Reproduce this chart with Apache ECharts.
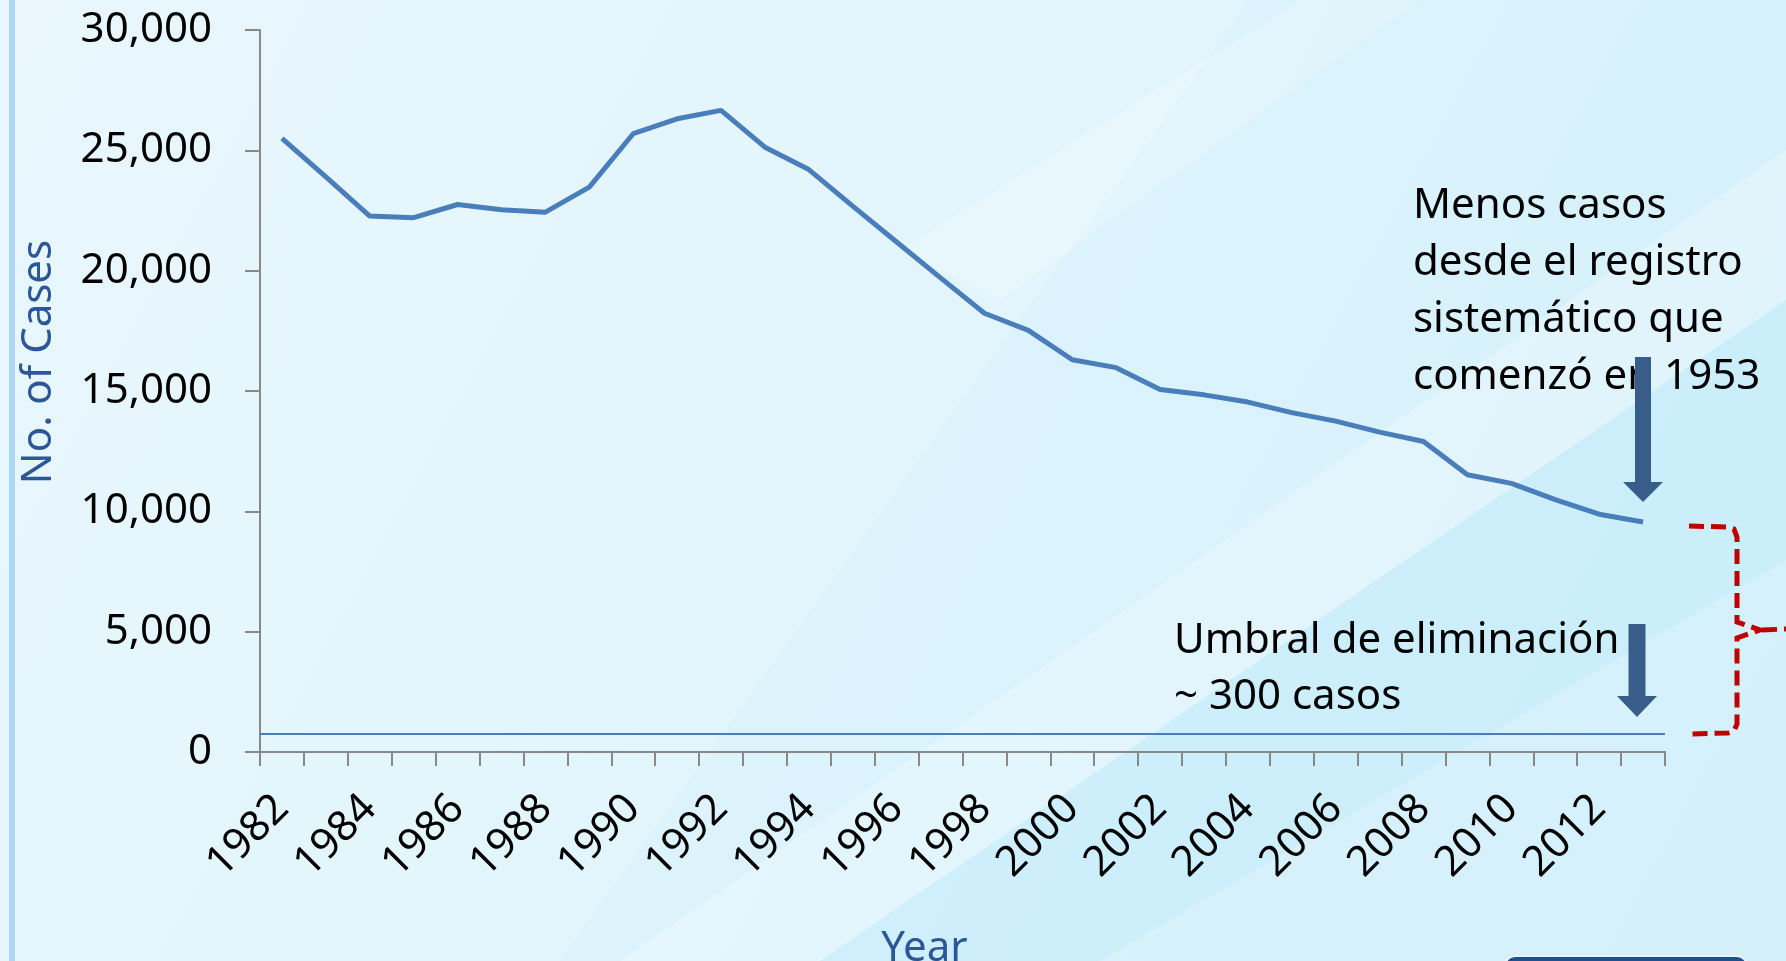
<!DOCTYPE html>
<html>
<head>
<meta charset="utf-8">
<script src="https://cdn.jsdelivr.net/npm/echarts@6/dist/echarts.min.js"></script>
<style>
html,body{margin:0;padding:0;width:1786px;height:961px;overflow:hidden;}
#chart{width:1786px;height:961px;}
</style>
</head>
<body>
<div id="chart"></div>
<script>
const years = ['1982','1983','1984','1985','1986','1987','1988','1989','1990','1991','1992','1993','1994','1995','1996','1997','1998','1999','2000','2001','2002','2003','2004','2005','2006','2007','2008','2009','2010','2011','2012','2013'];
const cases = [25500,23900,22270,22200,22750,22530,22430,23470,25690,26310,26660,25130,24200,22680,21190,19700,18230,17520,16300,15970,15060,14840,14540,14100,13750,13290,12900,11520,11160,10490,9880,9560];
const threshold = [750];
const noteTop = ['Menos casos', 'desde el registro', 'sistemático que', 'comenzó en 1953'];
const noteBottom = ['Umbral de eliminación', '~ 300 casos'];

const FONT = '"Noto Sans", "Open Sans", sans-serif';
const chart = echarts.init(document.getElementById('chart'), null, {renderer: 'canvas'});

const arrowColor = '#385d8a';
function arrow(cx, y0, yBase, yTip, shaftW, headW) {
  return {
    type: 'polygon', z: 20,
    shape: {points: [
      [cx - shaftW/2, y0], [cx + shaftW/2, y0], [cx + shaftW/2, yBase],
      [cx + headW/2, yBase], [cx, yTip], [cx - headW/2, yBase], [cx - shaftW/2, yBase]
    ]},
    style: {fill: arrowColor}
  };
}
const red = {stroke: '#c00000', lineWidth: 5, lineDash: [15, 7], fill: null};

const option = {
  backgroundColor: {
    type: 'linear', x: 0, y: 0, x2: 1, y2: 1,
    colorStops: [{offset: 0, color: '#e4f6fd'}, {offset: 0.5, color: '#dcf3fc'}, {offset: 1, color: '#d3f0fb'}]
  },
  animation: false,
  graphic: [
    {type: 'polygon', z: -10, silent: true, shape: {points: [[0,0],[1250,0],[560,961],[0,961]]}, style: {fill: 'rgba(255,255,255,0.18)'}},
    {type: 'polygon', z: -10, silent: true, shape: {points: [[620,961],[820,961],[1786,300],[1786,150]]}, style: {fill: 'rgba(255,255,255,0.25)'}},
    {type: 'polygon', z: -10, silent: true, shape: {points: [[820,961],[1100,961],[1786,560],[1786,300]]}, style: {fill: 'rgba(190,234,250,0.45)'}},
    {type: 'polygon', z: -10, silent: true, shape: {points: [[900,250],[1300,0],[1420,0],[1000,300]]}, style: {fill: 'rgba(255,255,255,0.2)'}},
    {type: 'rect', z: -5, silent: true, shape: {x: 9, y: 0, width: 6, height: 961}, style: {fill: '#acd9f1'}},
    {type: 'rect', z: -5, silent: true, shape: {x: 1504, y: 956, width: 244, height: 30, r: 12}, style: {fill: '#1f4f8f', stroke: '#eaf6fc', lineWidth: 2}},
    {type: 'text', z: 20, x: 1413, y: 178, style: {text: noteTop.join('\n'), font: '42px ' + FONT, fill: '#000', lineHeight: 57, verticalAlign: 'top'}},
    {type: 'text', z: 20, x: 1174, y: 613, style: {text: noteBottom.join('\n'), font: '42px ' + FONT, fill: '#000', lineHeight: 56, verticalAlign: 'top'}},
    arrow(1643, 357, 482, 502, 16, 40),
    arrow(1637, 624, 696, 717, 17, 40),
    {type: 'polyline', z: 20, silent: true,
     shape: {points: [[1689,526],[1728,527],[1734,529],[1737,537],[1737,622],[1760,630],[1737,638],[1737,724],[1734,731],[1728,733],[1689,734]]},
     style: red},
    {type: 'polyline', z: 20, silent: true, shape: {points: [[1762,630],[1786,629]]}, style: red}
  ],
  grid: {left: 260, right: 121, top: 30, bottom: 209, containLabel: false, outerBoundsMode: 'none'},
  xAxis: {
    type: 'category',
    data: years,
    boundaryGap: true,
    name: 'Year',
    nameLocation: 'middle',
    nameGap: 176,
    nameTextStyle: {fontFamily: FONT, fontSize: 42, color: '#2b5797', padding: [0, 76, 0, 0]},
    axisLine: {lineStyle: {color: '#888888', width: 2}},
    axisTick: {show: true, interval: 0, length: 14, lineStyle: {color: '#888888', width: 2}},
    axisLabel: {interval: 1, rotate: 45, margin: 50, fontFamily: FONT, fontSize: 42, color: '#000'},
    splitLine: {show: false}
  },
  yAxis: {
    type: 'value',
    min: 0, max: 30000, interval: 5000,
    name: 'No. of Cases',
    nameLocation: 'middle',
    nameGap: 200,
    nameTextStyle: {fontFamily: FONT, fontSize: 42, color: '#2b5797', padding: [0, 0, 0, 58]},
    axisLine: {show: true, lineStyle: {color: '#888888', width: 2}},
    axisTick: {show: true, length: 15, lineStyle: {color: '#888888', width: 2}},
    axisLabel: {margin: 48, fontFamily: FONT, fontSize: 42, color: '#000', padding: [6, 0, 0, 0],
      formatter: v => v.toLocaleString('en-US')},
    splitLine: {show: false}
  },
  series: [{
    type: 'line',
    name: 'Cases',
    data: cases,
    symbol: 'none',
    lineStyle: {color: '#4a7ebb', width: 5},
    itemStyle: {color: '#4a7ebb'},
    markLine: {
      silent: true, symbol: 'none', label: {show: false},
      lineStyle: {color: '#4a7ebb', width: 2, type: 'solid'},
      data: threshold.map(t => ({yAxis: t}))
    }
  }]
};
chart.setOption(option);
</script>
</body>
</html>
